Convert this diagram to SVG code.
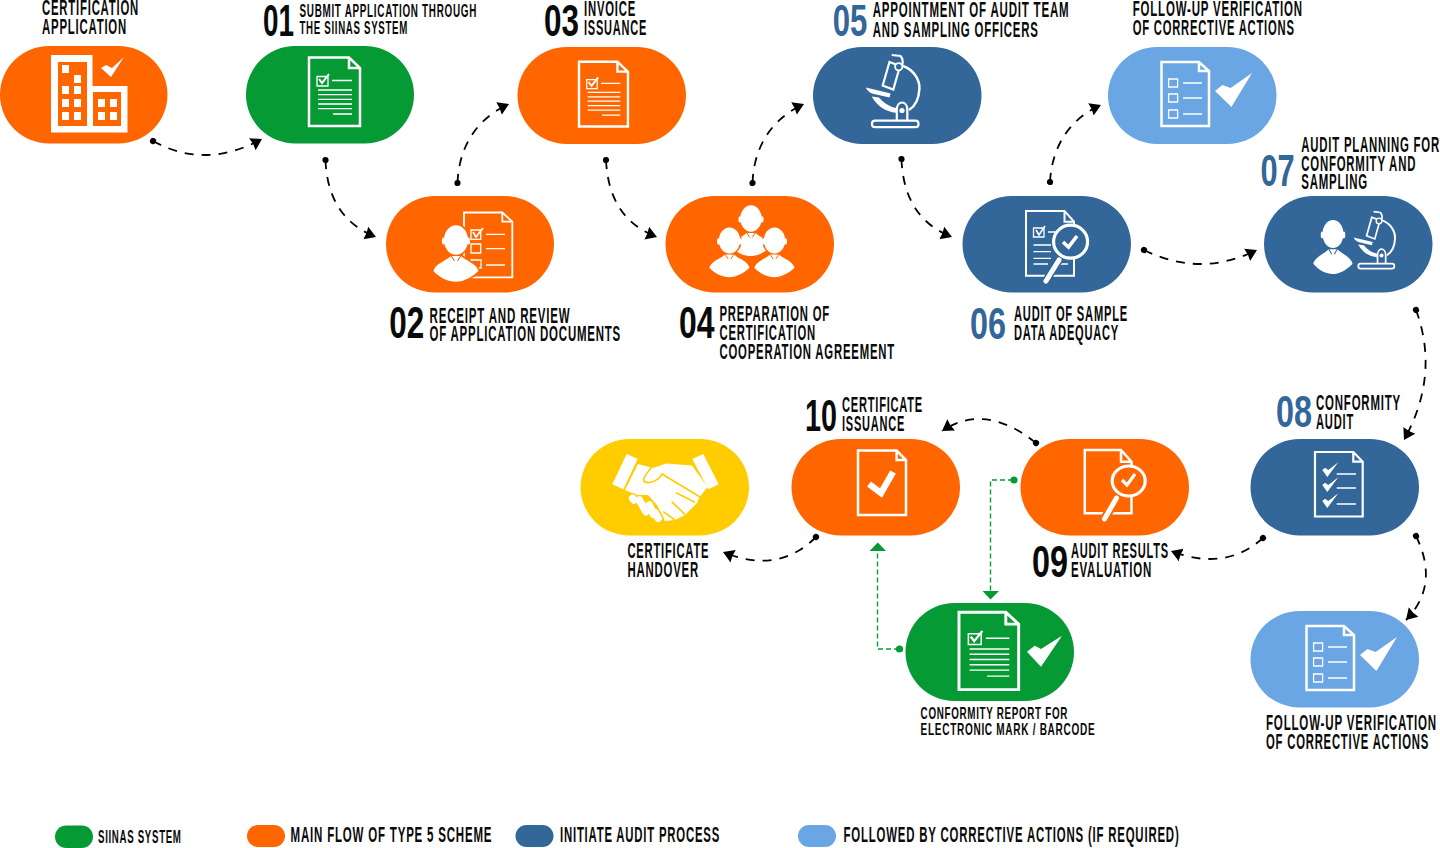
<svg xmlns="http://www.w3.org/2000/svg" xmlns:xlink="http://www.w3.org/1999/xlink" width="1440" height="848" viewBox="0 0 1440 848">
<style>
text{font-family:"Liberation Sans Narrow","Liberation Sans",Arial,sans-serif;font-weight:700;fill:#0a0a0a}
.l{font-size:21.5px;letter-spacing:.07em}.s{font-size:17.5px;letter-spacing:.07em}.m{font-size:16.5px;letter-spacing:.07em}.n{font-size:44px}.b{fill:#336699}
.o{fill:#ff6600;color:#ff6600}.g{fill:#069a35;color:#069a35}.d{fill:#336699;color:#336699}.c{fill:#6aa6e4;color:#6aa6e4}.y{fill:#ffcc00;color:#ffcc00}
.w{fill:#fff}.ws{fill:none;stroke:#fff;stroke-width:2.5}.wt{fill:none;stroke:#fff;stroke-width:1.3}
.cn{fill:none;stroke:#000;stroke-width:1.8;stroke-dasharray:9 8;marker-start:url(#dot);marker-end:url(#arr)}
.gn{fill:none;stroke:#00a03c;stroke-width:1.4;stroke-dasharray:5 3}
.halo{fill:currentColor;stroke:currentColor;stroke-width:3.5}
</style>
<defs>
<marker id="dot" markerUnits="userSpaceOnUse" markerWidth="8" markerHeight="8" refX="4" refY="4" orient="auto"><circle cx="4" cy="4" r="3.1" fill="#000"/></marker>
<marker id="arr" markerUnits="userSpaceOnUse" markerWidth="15" markerHeight="15" refX="11" refY="7.5" orient="auto"><path d="M0,0.7 L11,7.5 L0,14.3 L0.8,7.5 Z" fill="#000"/></marker>
<g id="doc-lines">
<path class="ws" d="M309,57.5 H349 L360,68 V126 H309 Z M349,57.5 V68 H360"/>
<path class="wt" d="M317,76.5 H328 V86 H317 Z"/>
<path d="M319,79 L322,83 L329,74" fill="none" stroke="#fff" stroke-width="2"/>
<path class="wt" d="M332,80.5 H352 M318,90 H352 M318,94.7 H352 M318,99.3 H352 M318,104 H352 M318,108.7 H352 M333,114 H352"/>
</g>
<g id="doc-check">
<path class="ws" d="M1161.5,62 H1199 L1209,71 V126 H1161.5 Z M1199,62 V71 H1209"/>
<path class="wt" d="M1168.6,79 H1177.6 V87 H1168.6 Z M1168.6,94 H1177.6 V102 H1168.6 Z M1168.6,110 H1177.6 V118 H1168.6 Z M1183,83 H1202 M1183,98 H1202 M1183,114 H1202"/>
<path class="w" d="M1215,91 L1231.4,107 L1252,73 L1230.6,88 L1222.4,85 Z"/>
</g>
<g id="person">
<ellipse class="halo" cx="0" cy="0" rx="12" ry="14.7"/>
<path class="halo" d="M-22.7,31 C-20,23 -10,21 -5,16 L5,16 C10,21 20,23 22.5,31 C14,39 6,41.7 0,41.7 C-8,41.7 -16,38 -22.7,31 Z"/>
<ellipse class="w" cx="0" cy="0" rx="12" ry="14.7"/>
<ellipse class="w" cx="-12.5" cy="1" rx="1.6" ry="3.5"/><ellipse class="w" cx="12.5" cy="1" rx="1.6" ry="3.5"/>
<path class="w" d="M-22.7,31 C-20,23 -10,21 -5,16 L5,16 C10,21 20,23 22.5,31 C14,39 6,41.7 0,41.7 C-8,41.7 -16,38 -22.7,31 Z"/>
<path d="M-5,15.5 L-1.5,21 M5,15.5 L1.5,21" fill="none" stroke="currentColor" stroke-width="1.1"/>
</g>
<g id="microscope">
<path class="wt" style="stroke-width:2.2" d="M889.5,62 L900,66 L893.3,89.5 L882.7,85.5 Z M891.7,55 L900.5,56 Q904,60 902,66"/>
<circle cx="898.7" cy="66.7" r="3.6" fill="currentColor" stroke="#fff" stroke-width="1.8"/>
<path class="ws" d="M903,66 C914,70 920,80 919.4,89 C918.8,100 914,107 909,110"/>
<path class="w" d="M871.7,96.5 Q880,111 896,112.8 L896,108 Q886,106 879,97.5 Z"/>
<path class="w" d="M866,87.5 L890.6,93.5 L889.5,97.5 L872,93.5 Q867,91 866,87.5 Z"/>
<path class="wt" style="stroke-width:2.2" d="M896.8,120 V110 C896.8,100 907.3,100 907.3,110 V120"/>
<circle class="w" cx="902" cy="110.5" r="2.6"/>
<rect class="wt" style="stroke-width:2.2" x="872" y="120.7" width="46.5" height="6.5" rx="3"/>
</g>
</defs>

<g id="connectors">
<path class="cn" d="M153,141 Q205,170 262,139"/>
<path class="cn" d="M325.5,160 C327,200 345,225 376,237"/>
<path class="cn" d="M457.5,183 C459,145 478,118 509,104"/>
<path class="cn" d="M606,160 C608,200 625,225 657,237"/>
<path class="cn" d="M752.5,183 C754,145 773,118 804,104"/>
<path class="cn" d="M901.5,159 C903,200 921,225 952,237"/>
<path class="cn" d="M1050,182 C1052,145 1071,118 1101,105"/>
<path class="cn" d="M1144,250 Q1200,278 1257,250"/>
<path class="cn" d="M1416,310 Q1440,375 1404,440"/>
<path class="cn" d="M1263,538 Q1225,572 1171,551"/>
<path class="cn" d="M1416,536 Q1440,585 1406,620"/>
<path class="cn" d="M1036,443 Q985,402 942,431"/>
<path class="cn" d="M816,537 Q778,575 723,552"/>
<path class="gn" d="M1013,480 H990.5 V592"/>
<circle cx="1014" cy="480" r="3.6" fill="#069a35"/>
<path d="M982.5,591 H999 L990.5,599.5 Z" fill="#069a35"/>
<path class="gn" d="M899,649 H877.5 V552"/>
<circle cx="899.5" cy="649" r="3.6" fill="#069a35"/>
<path d="M869.5,551 H886 L877.8,542.5 Z" fill="#069a35"/>
</g>

<g id="node-application">
<rect class="o" x="0" y="46" width="167.5" height="97.5" rx="49" ry="48.7"/>
<path class="w" d="M51,55 H92.5 V86 H127.5 V132.5 H51 Z"/>
<rect class="o" x="58" y="62" width="29" height="64"/><rect class="o" x="93" y="92" width="28" height="34"/>
<path class="w" d="M62,65h7v8h-7zM74,75h7v8h-7zM62,86h7v8h-7zM74,86h7v8h-7zM62,99h7v8h-7zM74,99h7v8h-7zM62,112h7v8h-7zM74,112h7v8h-7zM98,99h7v8h-7zM110,99h7v8h-7zM98,112h7v8h-7zM110,112h7v8h-7z"/>
<path class="w" d="M101,68 L111,77 L124,57 L112,68 L106,65 Z"/>
<text class="l" x="42" y="14.5" textLength="97" lengthAdjust="spacingAndGlyphs">CERTIFICATION</text>
<text class="l" x="42" y="33.5" textLength="85" lengthAdjust="spacingAndGlyphs">APPLICATION</text>
</g>

<g id="node-01">
<rect class="g" x="246" y="46" width="168" height="97.5" rx="49" ry="48.7"/>
<use xlink:href="#doc-lines" href="#doc-lines"/>
<text class="n" x="263" y="36" textLength="31" lengthAdjust="spacingAndGlyphs">01</text>
<text class="s" x="299.5" y="17.3" textLength="177.5" lengthAdjust="spacingAndGlyphs">SUBMIT APPLICATION THROUGH</text>
<text class="s" x="299.5" y="34" textLength="108.5" lengthAdjust="spacingAndGlyphs">THE SIINAS SYSTEM</text>
</g>

<g id="node-02" style="color:#ff6600">
<rect class="o" x="386" y="196" width="168" height="96.5" rx="49" ry="48.2"/>
<path class="ws" style="stroke-width:1.8" d="M464,212.5 H502.3 L512.3,221.7 V277.3 H464 Z M502.3,212.5 V221.7 H512.3"/>
<path class="wt" d="M471,230 H480.7 V239.3 H471 Z M471,244 H480.7 V253 H471 Z M471,260 H481 V268 H471 Z M486,234.3 H505 M486,248.7 H505 M486,265 H505"/>
<path d="M473,232 L476,237 L483,228" fill="none" stroke="#fff" stroke-width="1.8"/>
<use href="#person" transform="translate(456,240)"/>
<text class="n" x="389.3" y="338.3" textLength="35" lengthAdjust="spacingAndGlyphs">02</text>
<text class="l" x="429.5" y="322.5" textLength="141" lengthAdjust="spacingAndGlyphs">RECEIPT AND REVIEW</text>
<text class="l" x="429.5" y="341.3" textLength="191.5" lengthAdjust="spacingAndGlyphs">OF APPLICATION DOCUMENTS</text>
</g>

<g id="node-03">
<rect class="o" x="517.5" y="47" width="168.5" height="97" rx="49" ry="48.5"/>
<use href="#doc-lines" transform="translate(282.36,7.4) scale(.96,.945)"/>
<text class="n" x="544" y="36" textLength="35" lengthAdjust="spacingAndGlyphs">03</text>
<text class="l" x="584" y="16" textLength="52" lengthAdjust="spacingAndGlyphs">INVOICE</text>
<text class="l" x="584" y="35" textLength="63" lengthAdjust="spacingAndGlyphs">ISSUANCE</text>
</g>

<g id="node-04" style="color:#ff6600">
<rect class="o" x="665.5" y="196" width="168.5" height="96.5" rx="49" ry="48.2"/>
<use href="#person" transform="translate(751,218.5) scale(.89,.9)"/>
<use href="#person" transform="translate(729.5,240.5) scale(.89,.88)"/>
<use href="#person" transform="translate(774.5,240.5) scale(.89,.88)"/>
<text class="n" x="679" y="338" textLength="35.5" lengthAdjust="spacingAndGlyphs">04</text>
<text class="l" x="719.5" y="321.3" textLength="110.5" lengthAdjust="spacingAndGlyphs">PREPARATION OF</text>
<text class="l" x="719.5" y="340" textLength="96.5" lengthAdjust="spacingAndGlyphs">CERTIFICATION</text>
<text class="l" x="719.5" y="359" textLength="175.5" lengthAdjust="spacingAndGlyphs">COOPERATION AGREEMENT</text>
</g>

<g id="node-05" style="color:#336699">
<rect class="d" x="813" y="47" width="168.5" height="97" rx="49" ry="48.5"/>
<use href="#microscope"/>
<text class="n b" x="832.7" y="35.7" textLength="34.6" lengthAdjust="spacingAndGlyphs">05</text>
<text class="l" x="872.7" y="17.3" textLength="196.7" lengthAdjust="spacingAndGlyphs">APPOINTMENT OF AUDIT TEAM</text>
<text class="l" x="872.7" y="36.7" textLength="166" lengthAdjust="spacingAndGlyphs">AND SAMPLING OFFICERS</text>
</g>

<g id="node-followup-top">
<rect class="c" x="1108" y="47" width="168.5" height="97" rx="49" ry="48.5"/>
<use href="#doc-check"/>
<text class="l" x="1132.7" y="16" textLength="170.2" lengthAdjust="spacingAndGlyphs">FOLLOW-UP VERIFICATION</text>
<text class="l" x="1132.7" y="35" textLength="162" lengthAdjust="spacingAndGlyphs">OF CORRECTIVE ACTIONS</text>
</g>

<g id="node-06">
<rect class="d" x="962.5" y="196" width="168.5" height="96.5" rx="49" ry="48.2"/>
<path class="ws" style="stroke-width:2" d="M1026,211 H1064.5 L1074,221.7 V275.7 H1026 Z M1064.5,211 V221.7 H1074"/>
<path class="wt" d="M1033.5,228 H1044 V237 H1033.5 Z M1048,232 H1056 M1033.5,245 H1051 M1033.5,251.7 H1051 M1033.5,258.3 H1051 M1033.5,264 H1048 M1060,264 H1068"/>
<path d="M1036,230 L1039,235 L1045,226" fill="none" stroke="#fff" stroke-width="1.6"/>
<ellipse cx="1070.6" cy="241.7" rx="17" ry="16.5" fill="#336699" stroke="#fff" stroke-width="3.2"/>
<path d="M1059,260 L1046,281" fill="none" stroke="#336699" stroke-width="8"/>
<path d="M1059,260 L1046,281" fill="none" stroke="#fff" stroke-width="5" stroke-linecap="round"/>
<path d="M1063,242 L1068.5,247 L1077,236" fill="none" stroke="#fff" stroke-width="3.6"/>
<text class="n b" x="970" y="339" textLength="36" lengthAdjust="spacingAndGlyphs">06</text>
<text class="l" x="1014" y="321" textLength="114" lengthAdjust="spacingAndGlyphs">AUDIT OF SAMPLE</text>
<text class="l" x="1014" y="340" textLength="105" lengthAdjust="spacingAndGlyphs">DATA ADEQUACY</text>
</g>

<g id="node-07" style="color:#336699">
<rect class="d" x="1264" y="196" width="168.5" height="96.5" rx="49" ry="48.2"/>
<use href="#person" transform="translate(1333,234) scale(.87,.96)"/>
<use href="#microscope" transform="translate(682.5,168.25) scale(.775,.79)"/>
<text class="n b" x="1260.4" y="186" textLength="34.3" lengthAdjust="spacingAndGlyphs">07</text>
<text class="l" x="1301.2" y="151.7" textLength="138.8" lengthAdjust="spacingAndGlyphs">AUDIT PLANNING FOR</text>
<text class="l" x="1301.2" y="170.7" textLength="115" lengthAdjust="spacingAndGlyphs">CONFORMITY AND</text>
<text class="l" x="1301.2" y="189.3" textLength="66.8" lengthAdjust="spacingAndGlyphs">SAMPLING</text>
</g>

<g id="node-08">
<rect class="d" x="1250.5" y="439" width="168.5" height="96.5" rx="49" ry="48.2"/>
<path class="ws" style="stroke-width:2.2" d="M1315,452 H1353.3 L1362.7,461.7 V516.5 H1315 Z M1353.3,452 V461.7 H1362.7"/>
<path class="w" d="M1322.3,470 L1327.3,477 L1338.3,462.3 L1328.3,470 L1325,467.7 Z M1322.3,485 L1327.3,492 L1338.3,477.3 L1328.3,485 L1325,482.7 Z M1322.3,501 L1327.3,508 L1338.3,493.3 L1328.3,501 L1325,498.7 Z"/>
<path class="wt" d="M1336.7,474 H1356 M1336.7,488 H1356 M1336.7,504 H1356"/>
<text class="n b" x="1276" y="427" textLength="36" lengthAdjust="spacingAndGlyphs">08</text>
<text class="l" x="1316" y="410" textLength="85" lengthAdjust="spacingAndGlyphs">CONFORMITY</text>
<text class="l" x="1316" y="429" textLength="38" lengthAdjust="spacingAndGlyphs">AUDIT</text>
</g>

<g id="node-09">
<rect class="o" x="1020.5" y="439" width="168.5" height="96.5" rx="49" ry="48.2"/>
<path class="ws" d="M1084.8,450 H1121 L1131.5,461.7 V513.3 H1084.8 Z M1121,450 V461.7 H1131.5"/>
<ellipse cx="1128.7" cy="481" rx="16.5" ry="15" fill="#ff6600" stroke="#fff" stroke-width="3.2"/>
<path d="M1116.5,498 L1104.5,519" fill="none" stroke="#ff6600" stroke-width="9"/>
<path d="M1116.5,498 L1104.5,519" fill="none" stroke="#fff" stroke-width="5" stroke-linecap="round"/>
<path d="M1122,480 L1127,485 L1135,474" fill="none" stroke="#fff" stroke-width="3.2"/>
<text class="n" x="1032" y="576.7" textLength="36" lengthAdjust="spacingAndGlyphs">09</text>
<text class="l" x="1071" y="558" textLength="98" lengthAdjust="spacingAndGlyphs">AUDIT RESULTS</text>
<text class="l" x="1071" y="577" textLength="81" lengthAdjust="spacingAndGlyphs">EVALUATION</text>
</g>

<g id="node-10">
<rect class="o" x="791.5" y="439" width="168.5" height="96.5" rx="49" ry="48.2"/>
<path class="ws" d="M858,450.5 H896.6 L906,460 V515 H858 Z M896.6,450.5 V460 H906"/>
<path d="M869,484 L881,493 L893,472" fill="none" stroke="#fff" stroke-width="6.5"/>
<text class="n" x="805" y="431" textLength="32" lengthAdjust="spacingAndGlyphs">10</text>
<text class="l" x="842" y="412" textLength="81" lengthAdjust="spacingAndGlyphs">CERTIFICATE</text>
<text class="l" x="842" y="430.7" textLength="63" lengthAdjust="spacingAndGlyphs">ISSUANCE</text>
</g>

<g id="node-handover">
<rect class="y" x="580.5" y="439" width="168.5" height="96.5" rx="49" ry="48.2"/>
<path class="w" d="M626.7,454 L637.7,459 L623.3,489.3 L612.3,484.3 Z M692.3,459 L703.3,454 L718.7,484.3 L708.3,489.3 Z"/>
<path class="w" d="M638,464 L653,468 L666,463.5 L692,465.5 L707.5,487 L699,498 L697,503 L685,515 L675,520 L665,521 L657,505 L648,495 L637,495 L625,490 Z"/>
<path d="M654,465 Q645,474 643.5,480 Q645,484 652,482 Q660,479 662,474 L700,497 M676,492.7 L695,502.3 M671.7,501.7 L685,514.3 M663.3,511.7 L675,520" fill="none" stroke="#ffcc00" stroke-width="1.6"/>
<path d="M632.7,498.3 L634,500 M639.3,500 L646,511.7 M649.3,505 L653.3,514.3 M655,512.7 L658.3,518.3" fill="none" stroke="#ffcc00" stroke-width="10.5" stroke-linecap="round"/>
<path d="M632.7,498.3 L634,500 M639.3,500 L646,511.7 M649.3,505 L653.3,514.3 M655,512.7 L658.3,518.3" fill="none" stroke="#fff" stroke-width="7.5" stroke-linecap="round"/>
<text class="l" x="627.4" y="558.3" textLength="81.9" lengthAdjust="spacingAndGlyphs">CERTIFICATE</text>
<text class="l" x="627.4" y="577.3" textLength="71.6" lengthAdjust="spacingAndGlyphs">HANDOVER</text>
</g>

<g id="node-report">
<rect class="g" x="905.5" y="603" width="168.5" height="98" rx="49" ry="49"/>
<use href="#doc-lines" transform="translate(597.47,547.29) scale(1.17,1.13)"/>
<path class="w" d="M1027,651.7 L1041,666.7 L1062,635.7 L1041,649 L1034.7,645.7 Z"/>
<text class="m" x="920.6" y="719" textLength="147.4" lengthAdjust="spacingAndGlyphs">CONFORMITY REPORT FOR</text>
<text class="m" x="920.6" y="735" textLength="174.7" lengthAdjust="spacingAndGlyphs">ELECTRONIC MARK / BARCODE</text>
</g>

<g id="node-followup-bottom">
<rect class="c" x="1250.5" y="611" width="168.5" height="96.5" rx="49" ry="48.2"/>
<use href="#doc-check" transform="translate(145,564)"/>
<text class="l" x="1266" y="730" textLength="171" lengthAdjust="spacingAndGlyphs">FOLLOW-UP VERIFICATION</text>
<text class="l" x="1266" y="748.7" textLength="163" lengthAdjust="spacingAndGlyphs">OF CORRECTIVE ACTIONS</text>
</g>

<g id="legend">
<rect class="g" x="55" y="825.5" width="38" height="22.5" rx="11.2"/>
<text class="s" x="98" y="842.7" textLength="83.6" lengthAdjust="spacingAndGlyphs">SIINAS SYSTEM</text>
<rect class="o" x="247" y="825" width="38" height="22" rx="11"/>
<text class="l" x="290.6" y="842.3" textLength="201.7" lengthAdjust="spacingAndGlyphs">MAIN FLOW OF TYPE 5 SCHEME</text>
<rect class="d" x="515.5" y="825" width="38" height="22" rx="11"/>
<text class="l" x="560" y="842.3" textLength="160" lengthAdjust="spacingAndGlyphs">INITIATE AUDIT PROCESS</text>
<rect class="c" x="798" y="825" width="38" height="22" rx="11"/>
<text class="l" x="843.5" y="842.3" textLength="336" lengthAdjust="spacingAndGlyphs">FOLLOWED BY CORRECTIVE ACTIONS (IF REQUIRED)</text>
</g>
</svg>
